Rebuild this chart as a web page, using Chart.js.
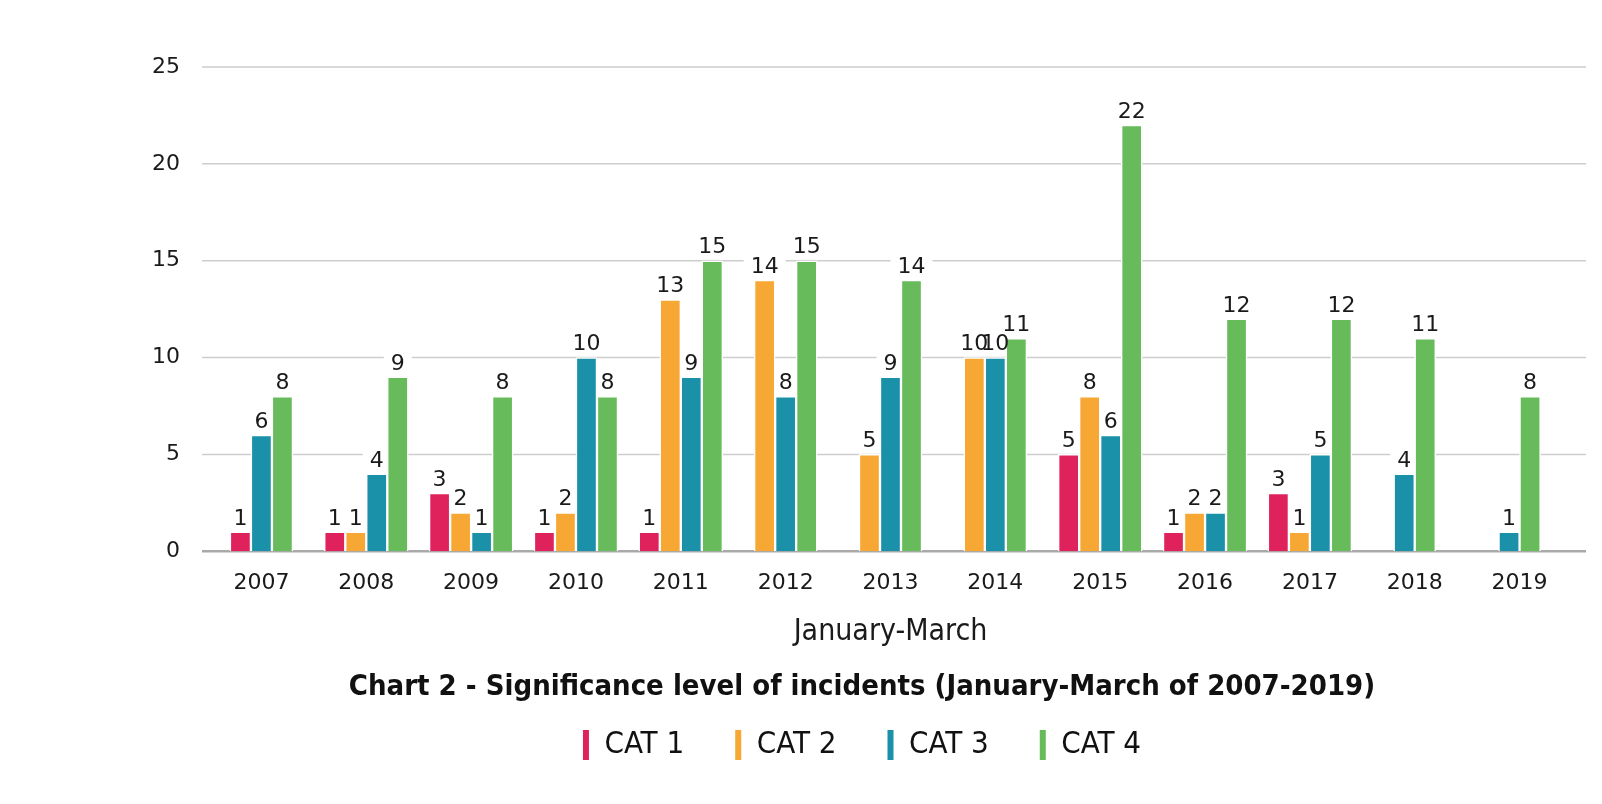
<!DOCTYPE html>
<html>
<head>
  <title>Significance level of incidents</title>
  <script src="https://cdn.jsdelivr.net/npm/chart.js@4"></script>
  <style>
    body { margin: 0; background: #fff; }
    #wrap { width: 1602px; height: 804px; }
  </style>
</head>
<body>
  <div id="wrap"><canvas id="myChart"></canvas></div>
  <script>
    const years = ['2007', '2008', '2009', '2010', '2011', '2012', '2013', '2014', '2015', '2016', '2017', '2018', '2019'];
    const cat1 = [1, 1, 3, 1, 1, null, null, null, 5, 1, 3, null, null];
    const cat2 = [null, 1, 2, 2, 13, 14, 5, 10, 8, 2, 1, null, null];
    const cat3 = [6, 4, 1, 10, 9, 8, 9, 10, 6, 2, 5, 4, 1];
    const cat4 = [8, 9, 8, 8, 15, 15, 14, 11, 22, 12, 12, 11, 8];
    const yMax = 25;
    const yStep = 5;

    const font = "'DejaVu Sans', sans-serif";
    const narrow = "'DejaVu Sans Condensed', 'DejaVu Sans', sans-serif";

    // gridlines are wider than the category area, so draw them from the y scale
    const gridLines = {
      id: 'gridLines',
      beforeDatasetsDraw(chart) {
        const ctx = chart.ctx;
        const y = chart.scales.y;
        const area = chart.chartArea;
        ctx.save();
        y.ticks.forEach(t => {
          const py = y.getPixelForValue(t.value);
          ctx.strokeStyle = t.value === 0 ? '#a9a9a9' : '#cdcdcd';
          ctx.lineWidth = t.value === 0 ? 2.5 : 1.5;
          ctx.beginPath();
          ctx.moveTo(area.left - 7, py);
          ctx.lineTo(area.right + 14, py);
          ctx.stroke();
        });
        // white patches behind the value labels
        ctx.font = '22px ' + font;
        chart.data.datasets.forEach((ds, di) => {
          chart.getDatasetMeta(di).data.forEach((bar, i) => {
            if (ds.data[i] == null) return;
            const w = ctx.measureText(String(ds.data[i])).width + 14;
            ctx.fillStyle = '#fff';
            ctx.fillRect(bar.x - w / 2, bar.y - 25, w, 21);
          });
        });
        ctx.restore();
      }
    };

    const valueLabels = {
      id: 'valueLabels',
      afterDatasetsDraw(chart) {
        const ctx = chart.ctx;
        ctx.save();
        ctx.font = '22px ' + font;
        ctx.fillStyle = '#1a1a1a';
        ctx.textAlign = 'center';
        ctx.textBaseline = 'bottom';
        chart.data.datasets.forEach((ds, di) => {
          chart.getDatasetMeta(di).data.forEach((bar, i) => {
            if (ds.data[i] == null) return;
            ctx.fillText(String(ds.data[i]), bar.x, bar.y - 2);
          });
        });
        ctx.restore();
      }
    };

    const barStyle = { barThickness: 21, borderColor: '#ffffff', borderWidth: 1.5 };

    const ctx = document.getElementById('myChart').getContext('2d');
    new Chart(ctx, {
      type: 'bar',
      data: {
        labels: years,
        datasets: [
          Object.assign({ label: 'CAT 1', data: cat1, backgroundColor: '#e0225c' }, barStyle),
          Object.assign({ label: 'CAT 2', data: cat2, backgroundColor: '#f7a733' }, barStyle),
          Object.assign({ label: 'CAT 3', data: cat3, backgroundColor: '#1a91a9' }, barStyle),
          Object.assign({ label: 'CAT 4', data: cat4, backgroundColor: '#67bb5b' }, barStyle)
        ]
      },
      options: {
        responsive: true,
        maintainAspectRatio: false,
        animation: false,
        skipNull: true,
        layout: { padding: { top: 67, right: 30, left: 152, bottom: 33.5 } },
        scales: {
          x: {
            grid: { display: false, drawTicks: false },
            border: { display: false },
            ticks: { color: '#1a1a1a', font: { family: font, size: 22 }, padding: 18.5 },
            title: {
              display: true,
              text: 'January-March',
              color: '#1a1a1a',
              font: { family: narrow, size: 30 },
              padding: { top: 0, bottom: 0 }
            }
          },
          y: {
            min: 0,
            max: yMax,
            grid: { display: false, drawTicks: false },
            border: { display: false },
            ticks: { stepSize: yStep, color: '#1a1a1a', font: { family: font, size: 22 }, padding: 29 },
            afterFit(scale) { scale.width = 57; }
          }
        },
        plugins: {
          tooltip: { enabled: false },
          title: {
            display: true,
            position: 'bottom',
            weight: 500,
            text: 'Chart 2 - Significance level of incidents (January-March of 2007-2019)',
            color: '#111',
            font: { family: narrow, size: 29, weight: 'bold' },
            padding: { top: 19, bottom: -26 }
          },
          legend: {
            position: 'bottom',
            weight: 1000,
            labels: {
              boxWidth: 6,
              boxHeight: 30,
              padding: 51,
              color: '#111',
              font: { family: narrow, size: 31 },
              generateLabels(chart) {
                return Chart.defaults.plugins.legend.labels.generateLabels(chart).map(l => {
                  l.lineWidth = 0;
                  l.strokeStyle = l.fillStyle;
                  return l;
                });
              }
            }
          }
        }
      },
      plugins: [gridLines, valueLabels]
    });
  </script>
</body>
</html>
